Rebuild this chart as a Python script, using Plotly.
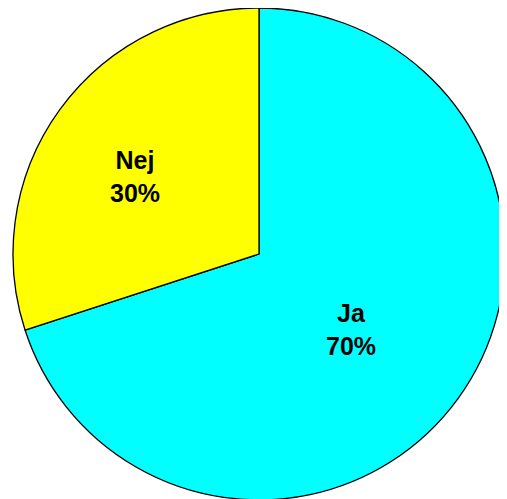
import plotly.graph_objects as go

labels = ["Ja", "Nej"]
values = [70, 30]
colors = ["#00FFFF", "#FFFF00"]
# label anchor positions (paper fractions) for the slice labels
label_x = [0.6765, 0.2505]
label_y = [0.3567, 0.6633]

W, H = 507, 499

fig = go.Figure(go.Pie(
    labels=labels,
    values=values,
    marker=dict(colors=colors, line=dict(color="black", width=1.3)),
    sort=False,
    direction="clockwise",
    rotation=0,
    textinfo="none",
    showlegend=False,
    domain=dict(x=[5/W, 497/W], y=[7/H, 1]),
    hoverinfo="none",
))

total = sum(values)
for lab, v, x, y in zip(labels, values, label_x, label_y):
    fig.add_annotation(
        x=x, y=y, xref="paper", yref="paper",
        text=f"<b>{lab}<br>{round(v / total * 100)}%</b>",
        showarrow=False,
        font=dict(family="Liberation Sans, Arial", size=25, color="black"),
        align="center", xanchor="center", yanchor="middle",
    )

fig.update_layout(
    width=W, height=H,
    margin=dict(l=0, r=0, t=0, b=0),
    paper_bgcolor="white",
    plot_bgcolor="white",
)
fig.write_html("out.html")
